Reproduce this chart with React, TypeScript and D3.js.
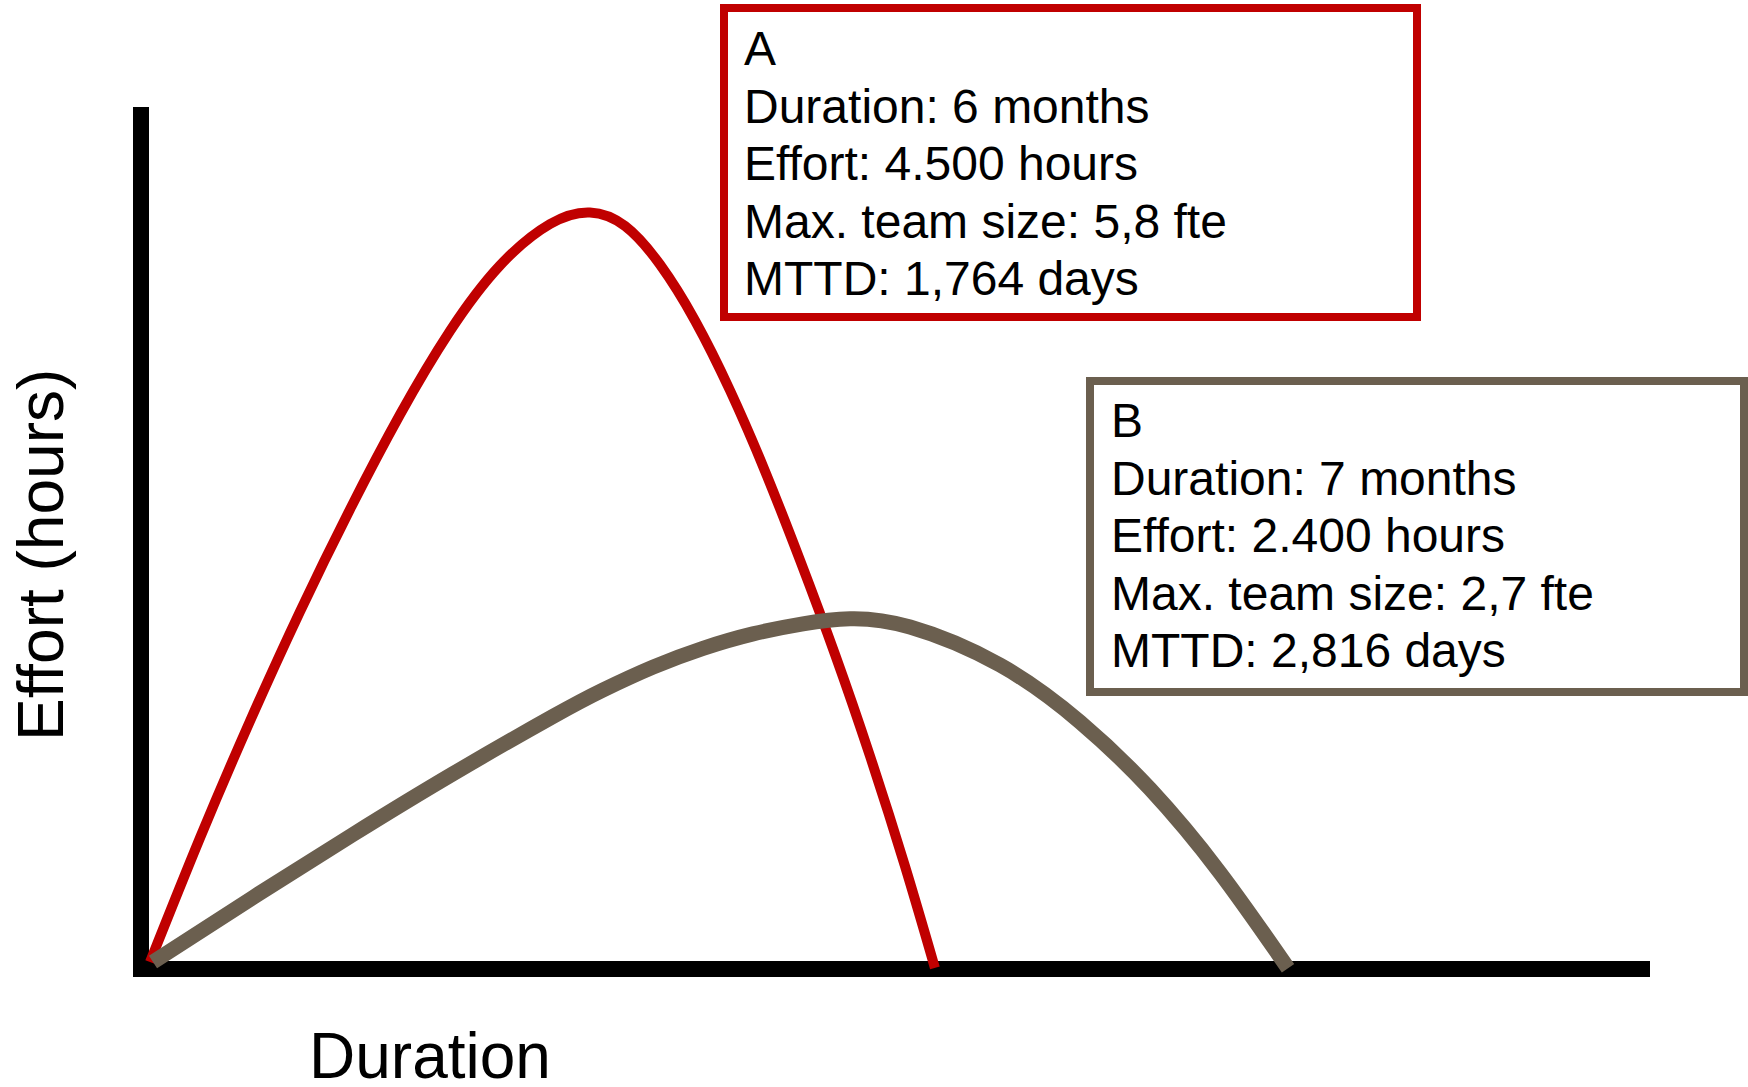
import React from "react";
import * as d3 from "d3";

// Project A curve (duration units, effort units)
const curveAx = [0, 3.33, 6.67, 10, 13.33, 16.67, 20, 23.33, 26.67, 29.33, 31.67, 34, 36.33, 38.67, 41, 43.33, 45.67, 48, 50.33, 52.33];
const curveAy = [0, 14.52, 28.22, 41.04, 52.99, 64.11, 73.89, 81.56, 86.42, 87.77, 86.18, 81.67, 75.12, 66.92, 57.49, 47.07, 36.01, 24.12, 11.24, -0.7];

// Project B curve
const curveBx = [0.2, 6.87, 13.53, 20.2, 26.87, 30.2, 33.53, 36.87, 40.2, 43.53, 46.67, 50.67, 56.67, 62, 66.67, 71.33, 75.87];
const curveBy = [0, 7.56, 14.93, 22.04, 28.76, 31.85, 34.53, 36.73, 38.42, 39.6, 40.19, 39.22, 34.77, 28.11, 20.26, 10.46, -0.74];

const boxALines = ["A", "Duration: 6 months", "Effort: 4.500 hours", "Max. team size: 5,8 fte", "MTTD: 1,764 days"];
const boxBLines = ["B", "Duration: 7 months", "Effort: 2.400 hours", "Max. team size: 2,7 fte", "MTTD: 2,816 days"];

const xLabel = "Duration";
const yLabel = "Effort (hours)";

const RED = "#C00000";
const BROWN = "#6B5F4F";
const FONT = "'Liberation Sans', Arial, Helvetica, sans-serif";

export default function App() {
  const W = 1748;
  const H = 1087;
  const x = d3.scaleLinear().domain([0, 100]).range([150, 1650]);
  const y = d3.scaleLinear().domain([0, 100]).range([962, 108]);

  const line = d3
    .line<[number, number]>()
    .x((d) => x(d[0]))
    .y((d) => y(d[1]))
    .curve(d3.curveNatural);

  const dataA: [number, number][] = curveAx.map((v, i) => [v, curveAy[i]]);
  const dataB: [number, number][] = curveBx.map((v, i) => [v, curveBy[i]]);

  const lineH = 57.5;

  return (
    <svg
      width={W}
      height={H}
      style={{ position: "absolute", left: 0, top: 0, background: "#fff" }}
      fontFamily={FONT}
    >
      <rect x={0} y={0} width={W} height={H} fill="#fff" />
      {/* axes */}
      <line x1={141} x2={141} y1={107} y2={977} stroke="#000" strokeWidth={16} />
      <line x1={133} x2={1650} y1={969} y2={969} stroke="#000" strokeWidth={16} />

      {/* curves */}
      <path d={line(dataA) || ""} fill="none" stroke={RED} strokeWidth={10} />
      <path d={line(dataB) || ""} fill="none" stroke={BROWN} strokeWidth={15} />

      {/* box A */}
      <rect x={724} y={8} width={693} height={309} fill="#fff" stroke={RED} strokeWidth={8} />
      {boxALines.map((t, i) => (
        <text key={"a" + i} x={744} y={65 + i * lineH} fontSize={48} fill="#000">
          {t}
        </text>
      ))}

      {/* box B */}
      <rect x={1090} y={381} width={654} height={311} fill="#fff" stroke={BROWN} strokeWidth={8} />
      {boxBLines.map((t, i) => (
        <text key={"b" + i} x={1111} y={437 + i * lineH} fontSize={48} fill="#000">
          {t}
        </text>
      ))}

      {/* axis labels */}
      <text x={309} y={1078} fontSize={64} fill="#000">
        {xLabel}
      </text>
      <text transform="translate(63,741) rotate(-90)" x={0} y={0} fontSize={64} fill="#000">
        {yLabel}
      </text>
    </svg>
  );
}
